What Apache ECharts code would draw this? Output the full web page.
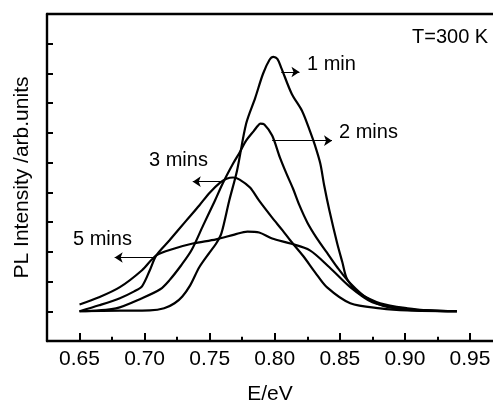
<!DOCTYPE html>
<html>
<head>
<meta charset="utf-8">
<script src="https://cdn.jsdelivr.net/npm/echarts@6/dist/echarts.min.js"></script>
<style>html,body{margin:0;padding:0;background:#fff}#c{width:493px;height:403px}</style>
</head>
<body>
<div id="c"></div>
<script>
// ---- data (E in eV, PL intensity in arb. units) ----
const e1 = [0.650,0.681,0.704,0.715,0.723,0.729,0.735,0.742,0.750,0.755,0.759,0.765,0.771,0.778,0.785,0.791,0.796,0.799,0.802,0.805,0.813,0.821,0.827,0.831,0.835,0.838,0.842,0.848,0.852,0.855,0.860,0.865,0.881,0.902,0.919,0.940];
const pl1 = [0,0.02,0.03,0.10,0.27,0.50,0.87,1.48,1.98,2.28,2.62,3.72,4.73,6.31,7.18,7.99,8.46,8.56,8.49,8.19,7.32,6.74,6.07,5.57,4.97,4.23,3.39,2.28,1.64,1.14,0.81,0.60,0.27,0.10,0.03,0];

const e2 = [0.650,0.678,0.698,0.712,0.719,0.728,0.736,0.745,0.754,0.760,0.768,0.773,0.778,0.784,0.787,0.789,0.792,0.798,0.804,0.809,0.814,0.819,0.825,0.832,0.840,0.848,0.858,0.871,0.888,0.914,0.940];
const pl2 = [0,0.10,0.44,0.74,1.04,1.54,2.05,2.89,3.72,4.30,4.97,5.34,5.74,6.07,6.24,6.31,6.28,5.91,5.17,4.63,4.13,3.56,2.99,2.48,1.98,1.48,0.94,0.44,0.13,0.03,0];

const e3 = [0.650,0.665,0.681,0.692,0.698,0.704,0.709,0.719,0.732,0.742,0.750,0.758,0.763,0.768,0.773,0.781,0.788,0.798,0.806,0.812,0.822,0.831,0.840,0.858,0.881,0.902,0.940];
const pl3 = [0,0.20,0.44,0.67,0.84,1.38,1.88,2.38,3.05,3.56,3.99,4.33,4.46,4.50,4.43,4.16,3.72,3.15,2.72,2.38,1.85,1.31,0.81,0.27,0.10,0.03,0];

const e5 = [0.650,0.665,0.681,0.698,0.709,0.723,0.737,0.755,0.769,0.779,0.788,0.798,0.812,0.827,0.842,0.858,0.875,0.896,0.919,0.940];
const pl5 = [0.23,0.47,0.81,1.38,1.88,2.11,2.28,2.42,2.58,2.68,2.65,2.45,2.28,2.05,1.48,0.81,0.30,0.10,0.02,0];

const xMajorTicks = [0.65,0.70,0.75,0.80,0.85,0.90,0.95];
const xMinorTicks = [0.675,0.725,0.775,0.825,0.875,0.925];
const yTicks = [0,1,2,3,4,5,6,7,8,9];

// annotation arrows: [start, end] in data units
const arrow1 = [[0.805,8.05],[0.819,8.05]];
const arrow2 = [[0.798,5.74],[0.844,5.74]];
const arrow3 = [[0.760,4.36],[0.737,4.36]];
const arrow5 = [[0.708,1.81],[0.677,1.81]];

const labels = ['1 min','2 mins','3 mins','5 mins'];

function pairs(xs, ys){ return xs.map((x,i)=>[x, ys[i]]); }
function arrowML(a){
  return {
    silent: true, symbol: ['none','arrow'], symbolSize: 8,
    lineStyle: {color:'#000', width:1, type:'solid'},
    label: {show:false}, emphasis:{disabled:true}, animation:false,
    data: [[{coord:a[0]},{coord:a[1]}]]
  };
}

const font = '"Liberation Sans", Arial, Helvetica, sans-serif';
const chart = echarts.init(document.getElementById('c'), null, {renderer:'canvas'});
const lineSeries = (name, xs, ys, arr) => ({
  name, type:'line', xAxisIndex:0, yAxisIndex:0, data: pairs(xs, ys),
  smooth: 0.3, showSymbol:false, symbol:'none',
  lineStyle:{color:'#000', width:2.2}, animation:false,
  markLine: arrowML(arr)
});

const xMin = 0.625, xMax = 0.9677, yMin = -1, yMax = 10;
const majorLen = 0.27, minorLen = 0.14;   // tick lengths in y-axis units (about 8 px and 4 px)
// invisible helper series that carries the inward x-axis ticks as mark lines
const tickCarrier = {
  name:'ticks', type:'line', xAxisIndex:0, yAxisIndex:0, silent:true, animation:false,
  data: xMajorTicks.map(v => [v, yMin]), showSymbol:false, symbol:'none',
  lineStyle:{opacity:0, width:0}, z:10,
  markLine:{
    silent:true, symbol:'none', animation:false, label:{show:false}, emphasis:{disabled:true},
    lineStyle:{color:'#000', width:2, type:'solid'},
    data: xMajorTicks.map(v => [{coord:[v, yMin]},{coord:[v, yMin + majorLen]}])
      .concat(xMinorTicks.map(v => [{coord:[v, yMin]},{coord:[v, yMin + minorLen]}]))
  }
};

chart.setOption({
  backgroundColor:'#fff',
  animation:false,
  grid:{left:47, right:0, top:14, bottom:62, containLabel:false, outerBoundsMode:'none'},
  xAxis:[
    {type:'value', gridIndex:0, min:xMin, max:xMax, interval:0.025, position:'bottom',
     name:'E/eV', nameLocation:'middle', nameGap:43,
     nameTextStyle:{color:'#000', fontSize:21, fontFamily:font},
     axisLine:{show:true, onZero:false, lineStyle:{color:'#000', width:2.4}},
     axisTick:{show:false},
     axisLabel:{show:true, margin:8, color:'#000', fontSize:21, fontFamily:font,
       showMinLabel:false, showMaxLabel:false,
       formatter:v=>{ const k = Math.round(v*1000); return (k % 50 === 0 && k >= 650) ? (k/1000).toFixed(2) : ''; }},
     splitLine:{show:false}},
    {type:'value', gridIndex:0, min:xMin, max:xMax, position:'top',
     axisLine:{show:true, onZero:false, lineStyle:{color:'#000', width:2.4}},
     axisTick:{show:false}, axisLabel:{show:false}, splitLine:{show:false}}
  ],
  yAxis:[
    {type:'value', gridIndex:0, min:yMin, max:yMax, interval:1, position:'left',
     name:'PL Intensity /arb.units', nameLocation:'middle', nameGap:14, nameRotate:90,
     nameTextStyle:{color:'#000', fontSize:21, fontFamily:font},
     axisLine:{show:true, onZero:false, lineStyle:{color:'#000', width:2.4}},
     axisTick:{show:true, inside:true, length:6, customValues:yTicks, lineStyle:{color:'#000', width:2}},
     axisLabel:{show:false}, splitLine:{show:false}}
  ],
  series:[
    lineSeries(labels[0], e1, pl1, arrow1),
    lineSeries(labels[1], e2, pl2, arrow2),
    lineSeries(labels[2], e3, pl3, arrow3),
    lineSeries(labels[3], e5, pl5, arrow5),
    tickCarrier
  ],
  graphic:[
    {type:'text', left:412, top:27, style:{text:'T=300 K', fill:'#000', font:'20px '+font}},
    {type:'text', left:307, top:54, style:{text:labels[0], fill:'#000', font:'20px '+font}},
    {type:'text', left:339, top:122, style:{text:labels[1], fill:'#000', font:'20px '+font}},
    {type:'text', left:149, top:150, style:{text:labels[2], fill:'#000', font:'20px '+font}},
    {type:'text', left:73, top:229, style:{text:labels[3], fill:'#000', font:'20px '+font}}
  ]
});
</script>
</body>
</html>
